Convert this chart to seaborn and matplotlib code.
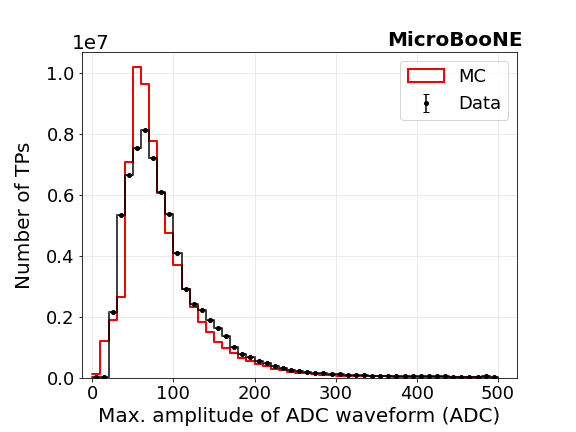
import numpy as np
import pandas as pd
import matplotlib
matplotlib.use("Agg")
import matplotlib.pyplot as plt
from matplotlib.patches import Patch
import seaborn as sns

# bin edges of the amplitude histogram (ADC)
bin_edges = list(range(0, 510, 10))
bin_centers = [e + 5 for e in bin_edges[:-1]]

# MC counts per bin (units of 1e6)
mc_counts = [0.12, 1.22, 1.90, 2.65, 7.08, 10.19, 9.63, 7.77, 6.07, 4.74,
             3.71, 2.92, 2.33, 1.83, 1.49, 1.19, 0.97, 0.81, 0.66, 0.57,
             0.46, 0.38, 0.29, 0.25, 0.21, 0.18, 0.15, 0.13, 0.11, 0.10,
             0.08, 0.07, 0.07, 0.06, 0.06, 0.05, 0.05, 0.04, 0.04, 0.04,
             0.03, 0.03, 0.03, 0.03, 0.03, 0.02, 0.02, 0.02, 0.02, 0.01]

# Data counts per bin (units of 1e6)
data_counts = [0.02, 0.02, 2.17, 5.34, 6.66, 7.52, 8.11, 7.22, 6.10, 5.36,
               4.09, 2.92, 2.42, 2.22, 1.91, 1.64, 1.39, 1.01, 0.79, 0.69,
               0.55, 0.48, 0.39, 0.32, 0.26, 0.22, 0.19, 0.16, 0.15, 0.13,
               0.12, 0.11, 0.10, 0.09, 0.08, 0.08, 0.07, 0.07, 0.06, 0.06,
               0.06, 0.05, 0.05, 0.05, 0.04, 0.04, 0.04, 0.04, 0.05, 0.02]

df = pd.DataFrame({
    "amp": bin_centers,
    "mc": np.array(mc_counts) * 1e6,
    "data": np.array(data_counts) * 1e6,
})

sns.set_style("ticks", {"axes.grid": True, "grid.color": "#e6e6e6",
                        "axes.edgecolor": "black", "text.color": "black",
                        "axes.labelcolor": "black", "xtick.color": "black",
                        "ytick.color": "black"})
plt.rcParams["font.family"] = ["DejaVu Sans"]
plt.rcParams["xtick.labelsize"] = 18
plt.rcParams["ytick.labelsize"] = 18

fig, ax = plt.subplots(figsize=(8, 6), dpi=72)
fig.subplots_adjust(left=0.142, right=0.898, bottom=0.125, top=0.88)

# MC histogram
sns.histplot(data=df, x="amp", weights="mc", bins=bin_edges, element="step",
             fill=False, color="red", linewidth=2, ax=ax)
# data histogram outline
sns.histplot(data=df, x="amp", weights="data", bins=bin_edges, element="step",
             fill=False, color="black", alpha=0.75, linewidth=2, ax=ax)
# data points
err = ax.errorbar(df["amp"], df["data"], yerr=np.sqrt(df["data"]), fmt="o",
                  color="black", markersize=4, capsize=3, elinewidth=1.5)

ax.set_xlim(-13, 524)
ax.set_ylim(0, 1.068e7)
ax.set_xticks([0, 100, 200, 300, 400, 500])
ax.set_xlabel("Max. amplitude of ADC waveform (ADC)", fontsize=20)
ax.set_ylabel("Number of TPs", fontsize=20, labelpad=12)
offset = ax.yaxis.get_offset_text()
offset.set_fontsize(20)
offset.set_x(-0.023)
ax.set_title("MicroBooNE", loc="right", fontsize=20, fontweight="bold",
             x=1.012)
ax.grid(True, color="#e6e6e6", linewidth=0.8)
ax.set_axisbelow(True)

mc_handle = Patch(facecolor="none", edgecolor="red", linewidth=2)
ax.legend([mc_handle, err], ["MC", "Data"], loc="upper right", fontsize=18)

plt.savefig("out.png", dpi=72)
